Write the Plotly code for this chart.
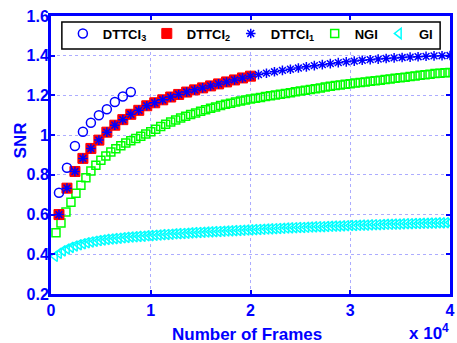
import plotly.graph_objects as go

# ---------------- data ----------------
x_dttci3 = list(range(800, 8001, 800))
y_dttci3 = [0.710, 0.836, 0.945, 1.017, 1.062, 1.100, 1.130, 1.167, 1.195, 1.217]

x_dttci2 = list(range(800, 20001, 800))
y_dttci2 = [0.600, 0.733, 0.817, 0.883, 0.933, 0.975, 1.015, 1.050, 1.078, 1.105,
            1.125, 1.148, 1.163, 1.178, 1.192, 1.205, 1.217, 1.228, 1.238, 1.248,
            1.258, 1.268, 1.278, 1.288, 1.297]

x_dttci1 = list(range(800, 40001, 800))
y_dttci1 = [0.600, 0.733, 0.817, 0.883, 0.933, 0.975, 1.015, 1.050, 1.078, 1.105,
            1.125, 1.148, 1.163, 1.178, 1.192, 1.205, 1.217, 1.228, 1.238, 1.248,
            1.258, 1.268, 1.278, 1.288, 1.297, 1.305, 1.312, 1.319, 1.326, 1.332,
            1.338, 1.344, 1.350, 1.355, 1.360, 1.365, 1.369, 1.373, 1.377, 1.380,
            1.383, 1.386, 1.389, 1.391, 1.393, 1.395, 1.397, 1.399, 1.400, 1.401]

x_ngi = list(range(500, 40001, 500))
y_ngi = [0.508, 0.558, 0.613, 0.662, 0.708, 0.748, 0.785, 0.820, 0.848, 0.873,
         0.895, 0.915, 0.932, 0.947, 0.960, 0.972, 0.983, 0.995, 1.006, 1.017,
         1.030, 1.043, 1.055, 1.066, 1.076, 1.086, 1.095, 1.104, 1.112, 1.120,
         1.128, 1.135, 1.142, 1.149, 1.155, 1.161, 1.167, 1.172, 1.177, 1.182,
         1.186, 1.190, 1.194, 1.198, 1.202, 1.206, 1.210, 1.214, 1.218, 1.222,
         1.226, 1.230, 1.234, 1.238, 1.242, 1.246, 1.250, 1.253, 1.256, 1.259,
         1.262, 1.265, 1.268, 1.271, 1.274, 1.277, 1.280, 1.283, 1.286, 1.289,
         1.292, 1.295, 1.298, 1.301, 1.304, 1.307, 1.310, 1.312, 1.314, 1.316]

x_gi = list(range(400, 40001, 400))
y_gi = [0.390, 0.405, 0.417, 0.427, 0.435, 0.442, 0.448, 0.453, 0.458, 0.462,
        0.466, 0.469, 0.472, 0.475, 0.477, 0.479, 0.481, 0.483, 0.485, 0.487,
        0.488, 0.490, 0.491, 0.493, 0.494, 0.496, 0.497, 0.499, 0.500, 0.501,
        0.503, 0.504, 0.505, 0.506, 0.508, 0.509, 0.510, 0.511, 0.512, 0.513,
        0.514, 0.515, 0.516, 0.517, 0.518, 0.519, 0.520, 0.521, 0.522, 0.523,
        0.524, 0.525, 0.526, 0.527, 0.528, 0.529, 0.530, 0.531, 0.532, 0.533,
        0.534, 0.535, 0.535, 0.536, 0.537, 0.538, 0.539, 0.539, 0.540, 0.541,
        0.542, 0.542, 0.543, 0.544, 0.545, 0.545, 0.546, 0.547, 0.547, 0.548,
        0.549, 0.549, 0.550, 0.551, 0.551, 0.552, 0.552, 0.553, 0.554, 0.554,
        0.555, 0.555, 0.556, 0.556, 0.557, 0.557, 0.558, 0.558, 0.559, 0.560]

x_tickvals = [0, 10000, 20000, 30000, 40000]
x_ticktext = ["0", "1", "2", "3", "4"]
y_tickvals = [0.2, 0.4, 0.6, 0.8, 1.0, 1.2, 1.4, 1.6]
y_ticktext = ["0.2", "0.4", "0.6", "0.8", "1", "1.2", "1.4", "1.6"]

# ---------------- layout helpers ----------------
W, H = 457, 343
ML, MR, MT, MB = 51, 2, 16, 49
PW, PH = W - ML - MR, H - MT - MB


def px_x(p):
    return (p - ML) / PW


def px_y(p):
    return (H - MB - p) / PH


BLUE = "#0000FF"
FONT = "Liberation Sans, Arial, sans-serif"

fig = go.Figure()

fig.add_trace(go.Scatter(
    x=x_gi, y=y_gi, mode="markers", name="GI", legend="legend5",
    marker=dict(symbol="triangle-left-open", size=9, color="#00FFFF",
                line=dict(width=1.5, color="#00FFFF"))))
fig.add_trace(go.Scatter(
    x=x_ngi, y=y_ngi, mode="markers", name="NGI", legend="legend4",
    marker=dict(symbol="square-open", size=8, color="#00FF00",
                line=dict(width=1.5, color="#00FF00"))))
fig.add_trace(go.Scatter(
    x=x_dttci2, y=y_dttci2, mode="markers", name="DTTCI<sub>2</sub>", legend="legend2",
    marker=dict(symbol="square", size=10, color="#FF0000",
                line=dict(width=1, color="#FF0000"))))
fig.add_trace(go.Scatter(
    x=x_dttci1, y=y_dttci1, mode="markers", name="DTTCI<sub>1</sub>", legend="legend3",
    marker=dict(symbol="asterisk-open", size=8, color=BLUE,
                line=dict(width=1.5, color=BLUE))))
fig.add_trace(go.Scatter(
    x=x_dttci3, y=y_dttci3, mode="markers", name="DTTCI<sub>3</sub>", legend="legend",
    marker=dict(symbol="circle-open", size=9, color=BLUE,
                line=dict(width=1.5, color=BLUE))))

axis_common = dict(
    showline=True, linecolor=BLUE, linewidth=3, mirror="ticks",
    ticks="inside", ticklen=4, tickwidth=2, tickcolor=BLUE,
    showgrid=True, gridcolor="rgba(90,90,255,0.5)", gridwidth=1, griddash="dot",
    zeroline=False,
    tickfont=dict(family=FONT, size=16, color=BLUE, weight="bold"),
)

fig.update_xaxes(range=[0, 40000], tickvals=x_tickvals, ticktext=x_ticktext,
                 **axis_common)
fig.update_yaxes(range=[0.2, 1.6], tickvals=y_tickvals, ticktext=y_ticktext,
                 ticklabelstandoff=-4, **axis_common)

legend_font = dict(family=FONT, size=13, color="black", weight="bold")
symbol_centers = [83, 168, 253, 338, 403]
legend_names = ["legend", "legend2", "legend3", "legend4", "legend5"]
legend_layout = {}
for name, sx in zip(legend_names, symbol_centers):
    legend_layout[name] = dict(
        x=px_x(sx - 20), y=px_y(33.5), xanchor="left", yanchor="middle",
        bgcolor="rgba(0,0,0,0)", borderwidth=0, font=legend_font,
        itemwidth=30)

fig.update_layout(
    width=W, height=H,
    margin=dict(l=ML, r=MR, t=MT, b=MB),
    paper_bgcolor="white", plot_bgcolor="white",
    showlegend=True,
    **legend_layout,
    shapes=[dict(type="rect", xref="paper", yref="paper",
                 x0=px_x(62), x1=px_x(445), y0=px_y(49), y1=px_y(22),
                 line=dict(color="black", width=1.5), fillcolor="white",
                 layer="above")],
    annotations=[
        dict(text="SNR", x=px_x(20), y=px_y(140), xref="paper", yref="paper",
             xanchor="center", yanchor="middle", textangle=-90, showarrow=False,
             font=dict(family=FONT, size=17, color=BLUE, weight="bold")),
        dict(text="Number of Frames", x=px_x(249), y=px_y(334), xref="paper",
             yref="paper", xanchor="center", yanchor="middle", showarrow=False,
             font=dict(family=FONT, size=17, color=BLUE, weight="bold")),
        dict(text="x 10<sup>4</sup>", x=px_x(456), y=px_y(332), xref="paper",
             yref="paper", xanchor="right", yanchor="middle", showarrow=False,
             font=dict(family=FONT, size=17, color=BLUE, weight="bold")),
    ],
)

fig.write_html("out.html", config={"displayModeBar": False},
               post_script="document.body.style.margin='0px';")
